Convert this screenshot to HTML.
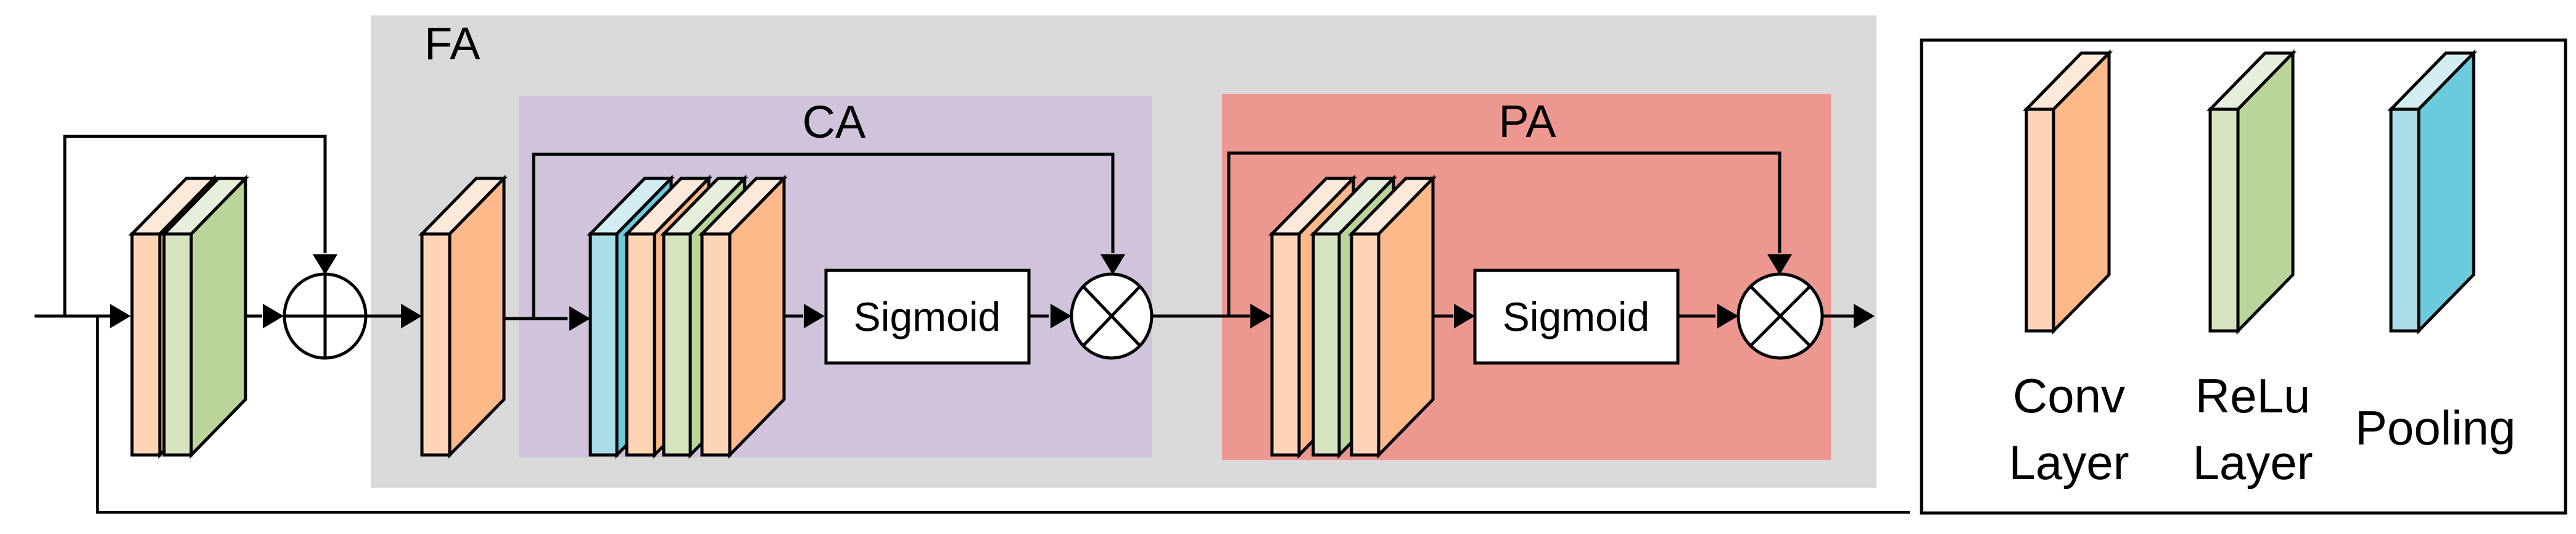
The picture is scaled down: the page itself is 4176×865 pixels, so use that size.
<!DOCTYPE html>
<html><head><meta charset="utf-8"><style>html,body{margin:0;padding:0;background:#fff}svg{display:block}</style></head>
<body>
<svg width="4176" height="865" viewBox="0 0 4176 865" xmlns="http://www.w3.org/2000/svg" font-family="'Liberation Sans', sans-serif">
<rect x="601" y="25" width="2441" height="765" fill="#d9d9d9"/>
<rect x="841" y="156" width="1026" height="585" fill="#d1c3dc"/>
<rect x="1981" y="152" width="987" height="593" fill="#ec9790"/>
<text x="688" y="96" font-size="74" fill="#000">FA</text>
<text x="1352" y="223" font-size="74" text-anchor="middle">CA</text>
<text x="2476" y="222" font-size="74" text-anchor="middle">PA</text>

<g stroke="#000" stroke-width="5" fill="none" stroke-linejoin="miter">
<polyline points="56,512 205,512"/>
<polyline points="105,512 105,221 527,221 527,410"/>
<polyline points="158,512 158,830 3096,830" stroke-width="4"/>
<polyline points="355,512 425,512"/>
<polyline points="592,512 650,512"/>
<polyline points="773,516 920,516"/>
<polyline points="865,516 865,250 1804,250 1804,410"/>
<polyline points="1238,512 1302,512"/>
<polyline points="1668,512 1700,512"/>
<polyline points="1867,512 2026,512"/>
<polyline points="1992,512 1992,248 2885,248 2885,410"/>
<polyline points="2282,512 2356,512"/>
<polyline points="2720,512 2781,512"/>
<polyline points="2954,512 3005,512"/>
</g>
<g fill="#000">
<polygon points="212,512 178,492 178,532"/>
<polygon points="460,512 426,492 426,532"/>
<polygon points="684,512 650,492 650,532"/>
<polygon points="957,516 923,496 923,536"/>
<polygon points="1337,512 1303,492 1303,532"/>
<polygon points="1737,512 1703,492 1703,532"/>
<polygon points="2061,512 2027,492 2027,532"/>
<polygon points="2391,512 2357,492 2357,532"/>
<polygon points="2818,512 2784,492 2784,532"/>
<polygon points="3039,512 3005,492 3005,532"/>
<polygon points="527,445 507,412 547,412"/>
<polygon points="1804,445 1784,412 1824,412"/>
<polygon points="2885,445 2865,412 2905,412"/>
</g>

<g stroke="#000" stroke-width="5" stroke-linejoin="miter">
<polygon points="214,379 302,289 347,289 259,379" fill="#fde9d9"/>
<polygon points="259,379 347,289 347,647 259,737" fill="#fdb98a"/>
<rect x="214" y="379" width="45" height="358" fill="#fdd5b6"/>
<polygon points="266,379 354,289 398,289 310,379" fill="#e6eedc"/>
<polygon points="310,379 398,289 398,647 310,737" fill="#b9d59a"/>
<rect x="266" y="379" width="44" height="358" fill="#d6e3bf"/>
<polygon points="684,379 772,289 817,289 729,379" fill="#fde9d9"/>
<polygon points="729,379 817,289 817,647 729,737" fill="#fdb98a"/>
<rect x="684" y="379" width="45" height="358" fill="#fdd5b6"/>
<polygon points="957,379 1045,289 1088,289 1000,379" fill="#d2eef3"/>
<polygon points="1000,379 1088,289 1088,647 1000,737" fill="#6bcadc"/>
<rect x="957" y="379" width="43" height="358" fill="#a9dde8"/>
<polygon points="1016,379 1104,289 1149,289 1061,379" fill="#fde9d9"/>
<polygon points="1061,379 1149,289 1149,647 1061,737" fill="#fdb98a"/>
<rect x="1016" y="379" width="45" height="358" fill="#fdd5b6"/>
<polygon points="1076,379 1164,289 1207,289 1119,379" fill="#e6eedc"/>
<polygon points="1119,379 1207,289 1207,647 1119,737" fill="#b9d59a"/>
<rect x="1076" y="379" width="43" height="358" fill="#d6e3bf"/>
<polygon points="1138,379 1226,289 1271,289 1183,379" fill="#fde9d9"/>
<polygon points="1183,379 1271,289 1271,647 1183,737" fill="#fdb98a"/>
<rect x="1138" y="379" width="45" height="358" fill="#fdd5b6"/>
<polygon points="2062,379 2150,289 2194,289 2106,379" fill="#fde9d9"/>
<polygon points="2106,379 2194,289 2194,647 2106,737" fill="#fdb98a"/>
<rect x="2062" y="379" width="44" height="358" fill="#fdd5b6"/>
<polygon points="2129,379 2217,289 2259,289 2171,379" fill="#e6eedc"/>
<polygon points="2171,379 2259,289 2259,647 2171,737" fill="#b9d59a"/>
<rect x="2129" y="379" width="42" height="358" fill="#d6e3bf"/>
<polygon points="2191,379 2279,289 2323,289 2235,379" fill="#fde9d9"/>
<polygon points="2235,379 2323,289 2323,647 2235,737" fill="#fdb98a"/>
<rect x="2191" y="379" width="44" height="358" fill="#fdd5b6"/>

<ellipse cx="527" cy="512" rx="66" ry="68" fill="#fff"/>
<line x1="461" y1="512" x2="593" y2="512"/>
<line x1="527" y1="444" x2="527" y2="580"/>
<ellipse cx="1802" cy="512" rx="65" ry="68" fill="#fff"/>
<line x1="1756" y1="464" x2="1848" y2="560"/>
<line x1="1848" y1="464" x2="1756" y2="560"/>
<ellipse cx="2886" cy="512" rx="68" ry="68" fill="#fff"/>
<line x1="2838" y1="464" x2="2934" y2="560"/>
<line x1="2934" y1="464" x2="2838" y2="560"/>

<rect x="1339" y="438" width="329" height="150" fill="#fff"/>
<rect x="2391" y="438" width="329" height="150" fill="#fff"/>

<rect x="3115" y="65" width="1044" height="766" fill="#fff"/>
<polygon points="3285,177 3374,86 3419,86 3329,177" fill="#fde9d9"/>
<polygon points="3329,177 3419,86 3419,445 3329,536" fill="#fdb98a"/>
<rect x="3285" y="177" width="44" height="359" fill="#fdd5b6"/>
<polygon points="3583,177 3672,86 3717,86 3628,177" fill="#e6eedc"/>
<polygon points="3628,177 3717,86 3717,445 3628,536" fill="#b9d59a"/>
<rect x="3583" y="177" width="45" height="359" fill="#d6e3bf"/>
<polygon points="3876,177 3965,86 4010,86 3921,177" fill="#d2eef3"/>
<polygon points="3921,177 4010,86 4010,445 3921,536" fill="#6bcadc"/>
<rect x="3876" y="177" width="45" height="359" fill="#a9dde8"/>
</g>
<text x="1503" y="536" font-size="66" text-anchor="middle">Sigmoid</text>
<text x="2555" y="536" font-size="66" text-anchor="middle">Sigmoid</text>
<text x="3354" y="668" font-size="78" text-anchor="middle">Conv</text>
<text x="3354" y="776" font-size="78" text-anchor="middle">Layer</text>
<text x="3652" y="668" font-size="78" text-anchor="middle">ReLu</text>
<text x="3652" y="776" font-size="78" text-anchor="middle">Layer</text>
<text x="3948" y="720" font-size="78" text-anchor="middle">Pooling</text>
</svg>
</body></html>
